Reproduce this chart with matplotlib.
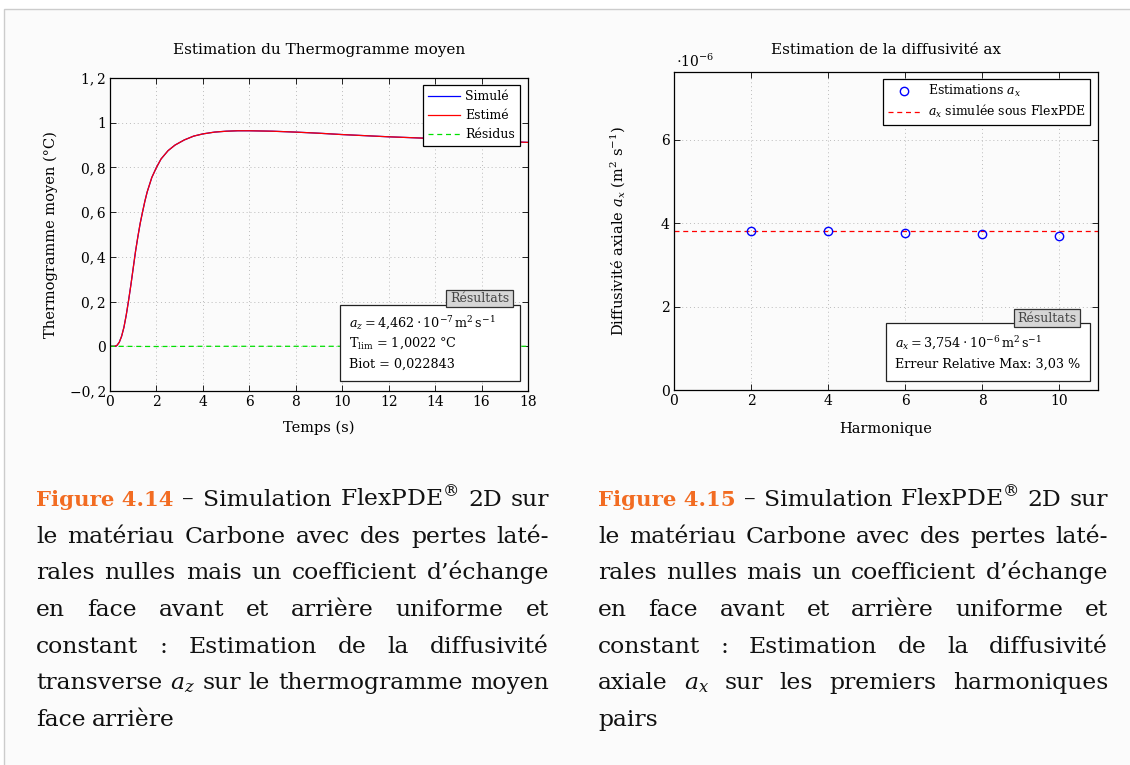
import matplotlib
matplotlib.use("Agg")
import matplotlib.pyplot as plt
from matplotlib.patches import Rectangle
from matplotlib.ticker import FuncFormatter, MultipleLocator

plt.rcParams["font.family"] = ["DejaVu Serif"]
plt.rcParams["mathtext.fontset"] = "dejavuserif"

W, H = 1130, 765

# --- Thermogramme moyen (left chart) ---
temps = [0.0, 0.2, 0.3, 0.4, 0.5, 0.6, 0.7, 0.8, 0.9, 1.0, 1.1, 1.2, 1.3, 1.4,
         1.5, 1.6, 1.8, 2.0, 2.2, 2.5, 2.8, 3.2, 3.6, 4.0, 4.5, 5.0, 5.5, 6.0,
         7.0, 8.0, 9.0, 10.0, 11.0, 12.0, 13.0, 14.0, 15.0, 16.0, 17.0, 18.0]
simule = [0.0, 0.0, 0.004, 0.018, 0.045, 0.085, 0.14, 0.205, 0.275, 0.35,
          0.425, 0.49, 0.55, 0.6, 0.648, 0.69, 0.755, 0.8, 0.838, 0.875, 0.9,
          0.923, 0.94, 0.95, 0.958, 0.962, 0.964, 0.964, 0.962, 0.958, 0.953,
          0.947, 0.942, 0.937, 0.933, 0.929, 0.925, 0.921, 0.916, 0.912]
estime = [0.0, 0.0, 0.004, 0.018, 0.045, 0.085, 0.14, 0.205, 0.275, 0.35,
          0.425, 0.49, 0.55, 0.6, 0.648, 0.69, 0.755, 0.8, 0.838, 0.875, 0.9,
          0.923, 0.94, 0.95, 0.958, 0.962, 0.964, 0.964, 0.962, 0.958, 0.953,
          0.947, 0.942, 0.937, 0.933, 0.929, 0.925, 0.921, 0.916, 0.912]
temps_res = [0.0, 2.0, 4.0, 6.0, 8.0, 10.0, 12.0, 14.0, 16.0, 18.0]
residus = [0.0, -0.001, 0.0, 0.0, 0.0, 0.0, 0.0, 0.0, 0.0, 0.0]

# --- Diffusivite axiale (right chart) ---
harmoniques = [2, 4, 6, 8, 10]
estimations = [3.806e-6, 3.800e-6, 3.772e-6, 3.732e-6, 3.688e-6]
ax_simule = 3.806e-6

resultats_gauche = [r"$a_z = 4{,}462\cdot10^{-7}\,\mathrm{m}^2\,\mathrm{s}^{-1}$",
                    r"T$_{\mathrm{lim}}$ = 1,0022 °C",
                    "Biot = 0,022843"]
resultats_droite = [r"$a_x = 3{,}754\cdot10^{-6}\,\mathrm{m}^2\,\mathrm{s}^{-1}$",
                    "Erreur Relative Max: 3,03 %"]

caption_left = ["Figure 4.14 – Simulation FlexPDE$^{®}$ 2D sur",
                "le matériau Carbone avec des pertes laté-",
                "rales nulles mais un coefficient d’échange",
                "en face avant et arrière uniforme et",
                "constant : Estimation de la diffusivité",
                "transverse $a_z$ sur le thermogramme moyen",
                "face arrière"]
caption_right = ["Figure 4.15 – Simulation FlexPDE$^{®}$ 2D sur",
                 "le matériau Carbone avec des pertes laté-",
                 "rales nulles mais un coefficient d’échange",
                 "en face avant et arrière uniforme et",
                 "constant : Estimation de la diffusivité",
                 "axiale $a_x$ sur les premiers harmoniques",
                 "pairs"]

FS = 10
ORANGE = "#f26c22"


def fx(x):
    return x / W


def fy(y):
    return 1 - y / H


def comma_fmt(v, pos):
    s = f"{v:g}".replace(".", ",\u2009")
    return s.replace("-", "\u2212")


def style_axes(ax):
    ax.set_facecolor("none")
    ax.tick_params(direction="in", top=True, right=True, length=4,
                   width=0.6, labelsize=FS, pad=3)
    ax.grid(True, linestyle=(0, (1, 3)), color="#bbbbbb", linewidth=0.7)
    for sp in ax.spines.values():
        sp.set_linewidth(0.9)


def results_box(x0, y0, x1, y1, tab, lines, text_x, line_y):
    fig.add_artist(Rectangle((fx(x0), fy(y1)), fx(x1 - x0), (y1 - y0) / H,
                             transform=fig.transFigure, facecolor="white",
                             edgecolor="#222222", linewidth=0.9, zorder=5))
    tx0, ty0, tx1, ty1 = tab
    fig.add_artist(Rectangle((fx(tx0), fy(ty1)), fx(tx1 - tx0), (ty1 - ty0) / H,
                             transform=fig.transFigure, facecolor="#d6d6d6",
                             edgecolor="#333333", linewidth=0.9, zorder=6))
    fig.text(fx((tx0 + tx1) / 2), fy((ty0 + ty1) / 2), "Résultats",
             ha="center", va="center", fontsize=9, color="#444444", zorder=7)
    for s, yy in zip(lines, line_y):
        fig.text(fx(text_x), fy(yy), s, ha="left", va="center",
                 fontsize=9.2, zorder=7)


fig = plt.figure(figsize=(W / 100, H / 100), dpi=100, facecolor="white")

# page frame
fig.add_artist(Rectangle((fx(4), -0.05), 1.1, fy(9) + 0.05,
                         transform=fig.transFigure, facecolor="#fbfbfb",
                         edgecolor="#cccccc", linewidth=1.0, zorder=-10))

# ---------- left chart ----------
ax1 = fig.add_axes([fx(110), fy(391), fx(418), 313 / H])
style_axes(ax1)
ax1.plot(temps, simule, color="blue", linewidth=0.9, label="Simulé")
ax1.plot(temps, estime, color="red", linewidth=0.9, label="Estimé")
ax1.plot(temps_res, residus, color="#00e000", linewidth=0.9,
         linestyle=(0, (4, 3)), label="Résidus")
ax1.set_xlim(0, 18)
ax1.set_ylim(-0.2, 1.2)
ax1.xaxis.set_major_locator(MultipleLocator(2))
ax1.yaxis.set_major_locator(MultipleLocator(0.2))
ax1.yaxis.set_major_formatter(FuncFormatter(comma_fmt))
fig.text(fx(319), fy(50), "Estimation du Thermogramme moyen", fontsize=11,
         ha="center", va="center")
ax1.set_xlabel("Temps (s)", fontsize=10.5, labelpad=8)
ax1.set_ylabel("Thermogramme moyen (°C)", fontsize=10.5, labelpad=8)
leg1 = ax1.legend(loc="upper right", bbox_to_anchor=(0.981, 0.978),
                  borderaxespad=0, fancybox=False, edgecolor="black",
                  framealpha=1, fontsize=9, handlelength=2.6,
                  handletextpad=0.4, borderpad=0.4, labelspacing=0.5)
leg1.get_frame().set_linewidth(0.9)

results_box(340, 305, 520, 381, (446, 290, 513, 307), resultats_gauche,
            349, [323, 343, 364])

# ---------- right chart ----------
ax2 = fig.add_axes([fx(674), fy(390), fx(424), 318 / H])
style_axes(ax2)
ax2.axhline(ax_simule / 1e-6, color="red", linewidth=0.9,
            linestyle=(0, (4, 3)), label=r"$a_x$ simulée sous FlexPDE")
ax2.plot(harmoniques, [v / 1e-6 for v in estimations], linestyle="none",
         marker="o", markersize=6, markerfacecolor="none",
         markeredgecolor="blue", markeredgewidth=1.0,
         label=r"Estimations $a_x$", zorder=4)
ax2.set_xlim(0, 11)
ax2.set_ylim(0, 7.62)
ax2.xaxis.set_major_locator(MultipleLocator(2))
ax2.yaxis.set_major_locator(MultipleLocator(2))
fig.text(fx(886), fy(50), "Estimation de la diffusivité ax", fontsize=11,
         ha="center", va="center")
ax2.text(0.005, 1.006, r"$\cdot10^{-6}$", transform=ax2.transAxes,
         ha="left", va="bottom", fontsize=FS)
ax2.set_xlabel("Harmonique", fontsize=10.5, labelpad=10)
ax2.set_ylabel(r"Diffusivité axiale $a_x$ (m$^2$ s$^{-1}$)", fontsize=10.5,
               labelpad=24)
handles, labels = ax2.get_legend_handles_labels()
leg2 = ax2.legend(handles[::-1], labels[::-1], loc="upper right",
                  bbox_to_anchor=(0.981, 0.978), borderaxespad=0,
                  fancybox=False, edgecolor="black", framealpha=1,
                  fontsize=9, handlelength=2.6, handletextpad=0.6,
                  borderpad=0.35, labelspacing=0.3)
leg2.get_frame().set_linewidth(0.9)

results_box(886, 323, 1090, 381, (1014, 309, 1080, 327), resultats_droite,
            895, [343, 364])

# ---------- captions (justified) ----------
CAP_FS = 16.9
LABEL_FS = 15.3
renderer = fig.canvas.get_renderer()


def caption_line(line, x0, x1, y, justify, first):
    words = line.split(" ")
    items = []
    if first:
        items.append((words[0] + " " + words[1],
                      dict(color=ORANGE, fontweight="bold", size=LABEL_FS)))
        words = words[2:]
    items += [(w, {}) for w in words]
    texts = [fig.text(0, fy(y), w, fontsize=kw.get("size", CAP_FS),
                      ha="left", va="baseline",
                      color=kw.get("color", "#111111"),
                      fontweight=kw.get("fontweight", "normal"))
             for w, kw in items]
    widths = [t.get_window_extent(renderer).width for t in texts]
    if justify and len(texts) > 1:
        gap = (x1 - x0 - sum(widths)) / (len(texts) - 1)
    else:
        gap = CAP_FS * 0.38
    x = x0
    for t, wd in zip(texts, widths):
        t.set_x(fx(x))
        x += wd + gap


baselines = [506, 542.7, 579.3, 616, 652.7, 689.3, 726]
for lines, x0, x1 in [(caption_left, 36, 549), (caption_right, 598, 1108)]:
    for i, (line, yb) in enumerate(zip(lines, baselines)):
        caption_line(line, x0, x1, yb, i < len(lines) - 1, i == 0)

fig.savefig("out.png", dpi=100, facecolor=fig.get_facecolor())
